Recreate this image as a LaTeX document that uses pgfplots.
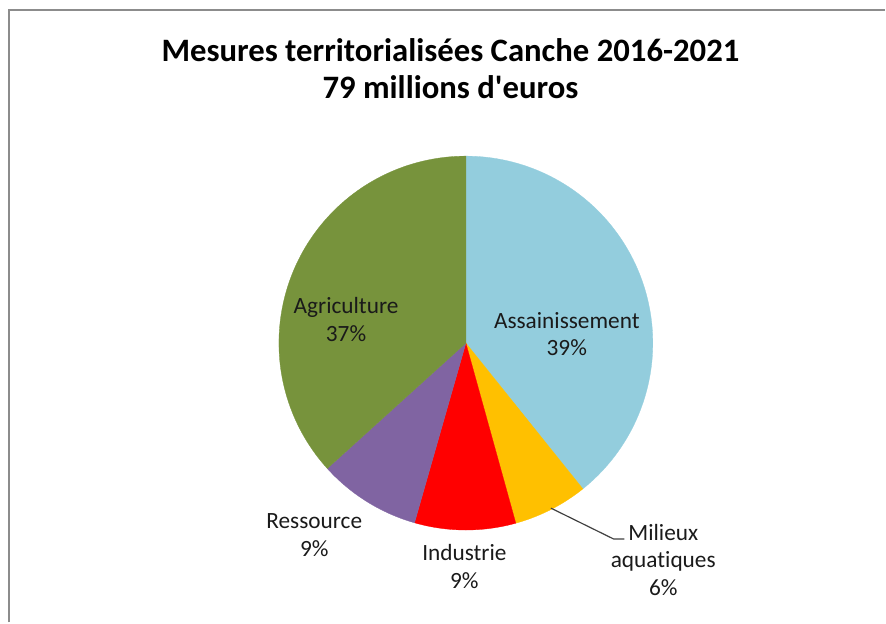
\documentclass[border=0pt]{standalone}
\usepackage{pgfplots}
\pgfplotsset{compat=1.18}
\usepackage{pgfplotstable}
\usepackage{fontspec}
\setmainfont{Carlito}[Ligatures={TeXOff,NoCommon}]

\definecolor{cAss}{HTML}{93CDDD}
\definecolor{cMil}{HTML}{FFC000}
\definecolor{cInd}{HTML}{FF0000}
\definecolor{cRes}{HTML}{8064A2}
\definecolor{cAgr}{HTML}{77933C}
\definecolor{frame}{HTML}{8C8C8C}
\definecolor{txt}{HTML}{1A1A1A}

% millions d'euros par domaine (total 79)
\pgfplotstableread{
part value
Assainissement 31.0
Milieux 5.1
Industrie 6.9
Ressource 7.0
Agriculture 29.0
}\parts

\begin{document}
\begin{tikzpicture}
% angles of the slice borders, clockwise from 12 o'clock
\def\total{79}
\pgfplotstablegetelem{0}{value}\of\parts \let\vA\pgfplotsretval
\pgfplotstablegetelem{1}{value}\of\parts \let\vB\pgfplotsretval
\pgfplotstablegetelem{2}{value}\of\parts \let\vC\pgfplotsretval
\pgfplotstablegetelem{3}{value}\of\parts \let\vD\pgfplotsretval
\pgfplotstablegetelem{4}{value}\of\parts \let\vE\pgfplotsretval
\pgfmathsetmacro\aA{90}
\pgfmathsetmacro\aB{\aA-360*\vA/\total}
\pgfmathsetmacro\aC{\aB-360*\vB/\total}
\pgfmathsetmacro\aD{\aC-360*\vC/\total}
\pgfmathsetmacro\aE{\aD-360*\vD/\total}
\pgfmathsetmacro\aF{\aE-360*\vE/\total}
\def\cx{468.5}
\def\cy{276}
\def\R{188}
\begin{axis}[
  scale only axis,
  width=886bp, height=621bp,
  xmin=0, xmax=886, ymin=0, ymax=621,
  hide axis, clip=false,
  samples=90,
]
\path (axis cs:0,0) rectangle (axis cs:886,621);
\draw[frame, line width=2bp] (axis cs:9,-5) -- (axis cs:9,611) -- (axis cs:890,611);

\addplot[fill=cAss, draw=cAss, line width=0.3bp, domain=\aB:\aA] ({\cx+\R*cos(x)},{\cy+\R*sin(x)}) -- (axis cs:\cx,\cy) -- cycle;
\addplot[fill=cMil, draw=cMil, line width=0.3bp, domain=\aC:\aB] ({\cx+\R*cos(x)},{\cy+\R*sin(x)}) -- (axis cs:\cx,\cy) -- cycle;
\addplot[fill=cInd, draw=cInd, line width=0.3bp, domain=\aD:\aC] ({\cx+\R*cos(x)},{\cy+\R*sin(x)}) -- (axis cs:\cx,\cy) -- cycle;
\addplot[fill=cRes, draw=cRes, line width=0.3bp, domain=\aE:\aD] ({\cx+\R*cos(x)},{\cy+\R*sin(x)}) -- (axis cs:\cx,\cy) -- cycle;
\addplot[fill=cAgr, draw=cAgr, line width=0.3bp, domain=\aF:\aE] ({\cx+\R*cos(x)},{\cy+\R*sin(x)}) -- (axis cs:\cx,\cy) -- cycle;

% titre
\node[font=\fontsize{33}{38}\selectfont\bfseries, align=center, text=black] at (axis cs:453,552) {Mesures territorialisées Canche 2016-2021\\79 millions d'euros};

% étiquettes
\begin{scope}[every node/.style={font=\fontsize{23.5}{28}\selectfont, align=center, text=txt}]
\node at (axis cs:570,285) {Assainissement\\39\%};
\node at (axis cs:348,299.5) {Agriculture\\37\%};
\node at (axis cs:316,83) {Ressource\\9\%};
\node at (axis cs:467,51) {Industrie\\9\%};
\node at (axis cs:667,58) {Milieux\\aquatiques\\6\%};
\end{scope}
\draw[black!75, line width=1.2bp] (axis cs:554,110) -- (axis cs:617,79) -- (axis cs:628,79);
\end{axis}
\end{tikzpicture}
\end{document}
